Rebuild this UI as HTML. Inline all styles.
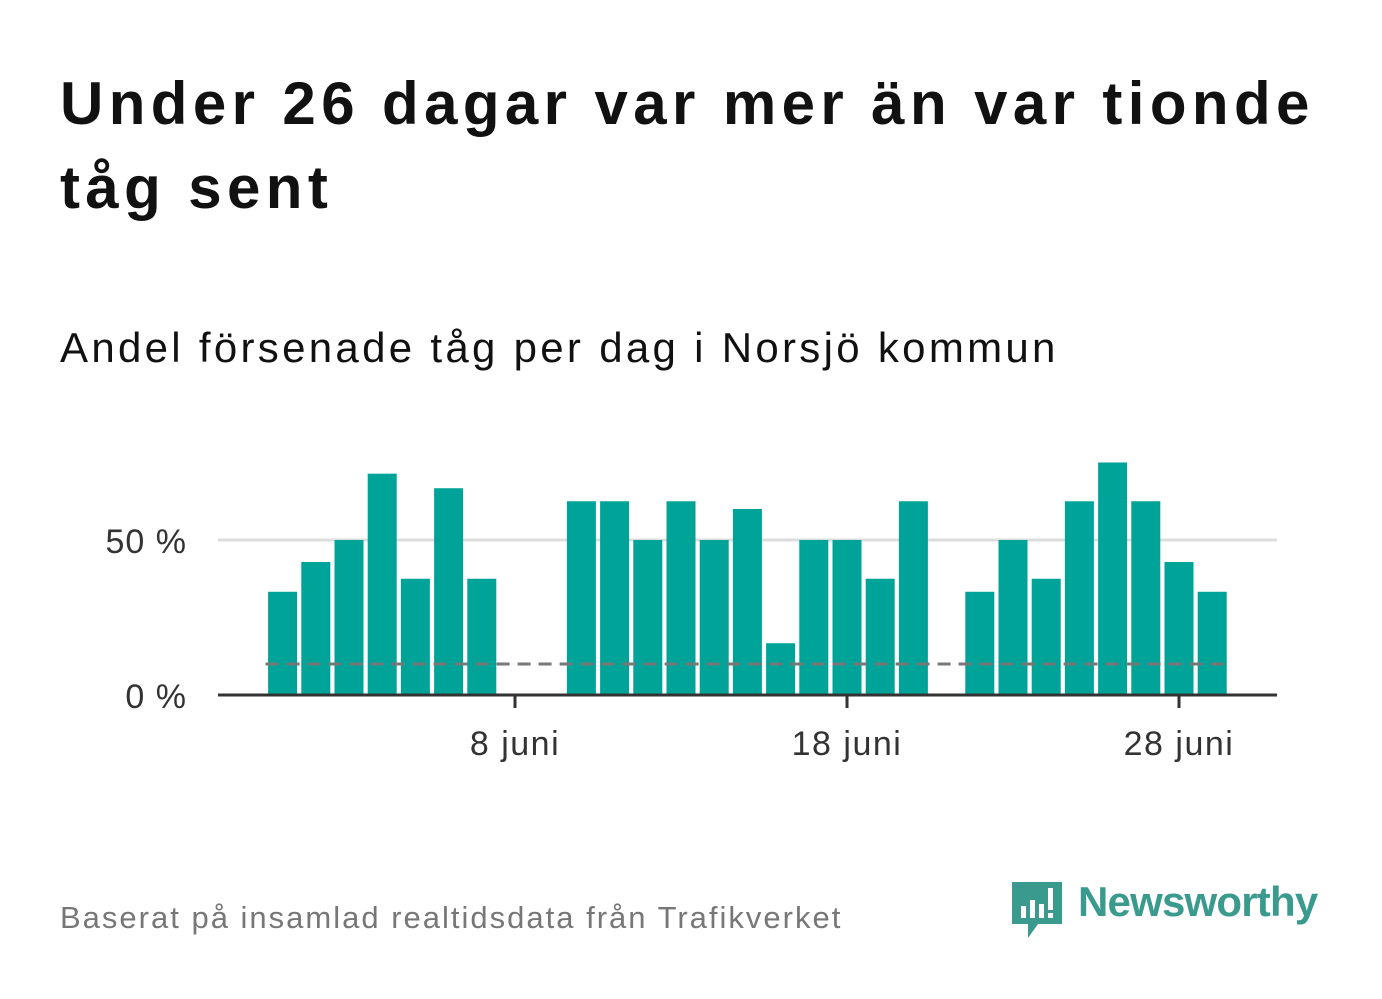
<!DOCTYPE html>
<html><head><meta charset="utf-8"><style>
body{margin:0;width:1382px;height:999px;background:#fff;font-family:"Liberation Sans",sans-serif;overflow:hidden;position:relative}
.t{position:absolute;left:60px;top:62px;font-size:60px;font-weight:bold;color:#111;line-height:84px;letter-spacing:5.4px;white-space:nowrap}
.s{position:absolute;left:60px;top:324px;font-size:42px;color:#111;letter-spacing:3.3px;white-space:nowrap}
.f{position:absolute;left:60px;top:900px;font-size:31px;color:#777;letter-spacing:2px;white-space:nowrap}
.logo{position:absolute;left:1012px;top:878px}
.lt{position:absolute;left:1078px;top:878px;font-size:42px;font-weight:bold;color:#3a9a8e;letter-spacing:-0.8px}
</style></head><body>
<div class="t">Under 26 dagar var mer än var tionde<br>tåg sent</div>
<div class="s">Andel försenade tåg per dag i Norsjö kommun</div>
<svg id="chart" width="1382" height="999" style="position:absolute;left:0;top:0"></svg>
<div class="f">Baserat på insamlad realtidsdata från Trafikverket</div>
<svg class="logo" width="56" height="62">
<path d="M0 4 h50 v42 h-24 l-10 14 v-14 h-16 z" fill="#3a9a8e"/>
<rect x="9" y="28" width="5" height="12" fill="#fff"/><rect x="18" y="22" width="5" height="18" fill="#fff"/><rect x="27" y="26" width="5" height="14" fill="#fff"/><rect x="36" y="10" width="5" height="22" fill="#fff"/><rect x="36" y="35" width="5" height="5" fill="#fff"/>
</svg>
<div class="lt">Newsworthy</div>
<script>
const days=[1,2,3,4,5,6,7,10,11,12,13,14,15,16,17,18,19,20,22,23,24,25,26,27,28,29];
const values=[33.3,42.9,50,71.4,37.5,66.7,37.5,62.5,62.5,50,62.5,50,60,16.7,50,50,37.5,62.5,33.3,50,37.5,62.5,75,62.5,42.9,33.3];
const tickDays=[8,18,28];
const tickLabels=["8 juni","18 juni","28 juni"];
const yTicks=[0,50];
const yTickLabels=["0 %","50 %"];
const threshold=[10];
const svg=document.getElementById('chart');
const NS='http://www.w3.org/2000/svg';
const x=d=>515+(d-8)*33.2;
const y=v=>695-v*3.1;
function mk(t,a){const e=document.createElementNS(NS,t);for(const k in a)e.setAttribute(k,a[k]);svg.appendChild(e);return e;}
yTicks.forEach((v,i)=>{
 if(v>0){const g=mk('line',{x1:218,x2:1277,y1:y(v),y2:y(v),stroke:'#ddd','stroke-width':3});
 
 }
 const t=mk('text',{x:187,y:y(v)+13,'text-anchor':'end','font-size':34,fill:'#333','font-family':'Liberation Sans','letter-spacing':1});
 t.textContent=yTickLabels[i];
 
 
});
days.forEach((d,i)=>{
 const r=mk('rect',{x:x(d)-14.5,y:y(values[i]),width:29,height:695-y(values[i]),fill:'#00a398'});
 
 
});
const dl=mk('line',{x1:x(1)-17,x2:x(29)+16,y1:y(threshold[0]),y2:y(threshold[0]),stroke:'#777','stroke-width':3,'stroke-dasharray':'13 8'});


const ax=mk('line',{x1:218,x2:1277,y1:695,y2:695,stroke:'#333','stroke-width':3});


tickDays.forEach((d,i)=>{
 const tk=mk('line',{x1:x(d),x2:x(d),y1:695,y2:708,stroke:'#333','stroke-width':3});
 
 
 const t=mk('text',{x:x(d),y:755,'text-anchor':'middle','font-size':34,fill:'#333','font-family':'Liberation Sans','letter-spacing':1.5});
 t.textContent=tickLabels[i];
 
 
});
</script>
</body></html>
